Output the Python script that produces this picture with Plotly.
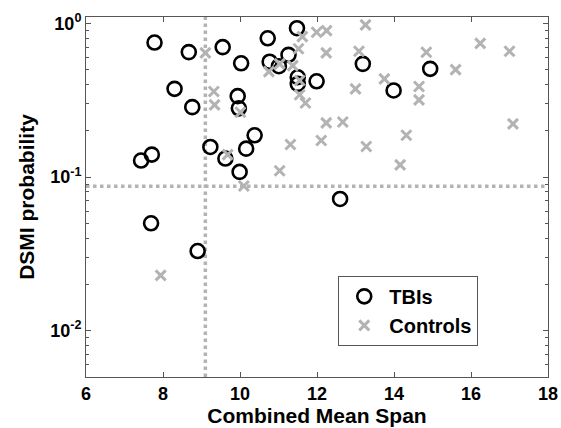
import plotly.graph_objects as go
import math

# TBIs (black open circles)
tbi_span = [7.78, 8.67, 8.30, 8.76, 7.43, 7.71, 7.69, 8.90, 9.55, 10.03, 9.94, 9.97,
            10.38, 9.23, 10.16, 9.62, 9.99, 11.48, 10.72, 10.77, 11.01, 11.26, 11.50,
            11.50, 11.99, 13.19, 13.99, 14.94, 12.60]
tbi_prob = [0.75, 0.65, 0.375, 0.285, 0.128, 0.140, 0.050, 0.033, 0.70, 0.55, 0.336, 0.280,
            0.187, 0.157, 0.153, 0.132, 0.108, 0.93, 0.80, 0.563, 0.526, 0.624, 0.446,
            0.404, 0.42, 0.545, 0.366, 0.506, 0.072]

# Controls (gray crosses)
ctl_span = [9.10, 9.32, 9.34, 10.01, 9.68, 10.10, 7.94, 11.03, 11.99, 12.25, 11.62, 13.26,
            11.52, 12.24, 13.09, 10.75, 11.03, 11.37, 11.55, 11.55, 11.70, 13.00, 13.75,
            14.65, 14.65, 14.84, 12.24, 12.67, 11.31, 12.11, 13.28, 14.32, 14.16, 15.60,
            16.24, 17.00, 17.09]
ctl_prob = [0.643, 0.36, 0.295, 0.264, 0.140, 0.0875, 0.0229, 0.110, 0.875, 0.897, 0.82, 0.977,
            0.683, 0.643, 0.658, 0.485, 0.545, 0.531, 0.425, 0.343, 0.303, 0.375, 0.435,
            0.388, 0.318, 0.649, 0.225, 0.228, 0.163, 0.173, 0.158, 0.187, 0.120, 0.50,
            0.741, 0.658, 0.222]

# thresholds
span_threshold = 9.1
prob_threshold = 0.087

x_range = [6, 18]
y_range = [0.005, 1.1]
x_ticks = [6, 8, 10, 12, 14, 16, 18]
y_ticks = [0.01, 0.1, 1]
y_ticktext = ["10<sup>-2</sup>", "10<sup>-1</sup>", "10<sup>0</sup>"]

GRAY = "#b3b3b3"
FAM = "Liberation Sans, Arial, sans-serif"
TICKFONT = dict(family=FAM, size=18, color="black", weight="bold")
TITLEFONT = dict(family=FAM, size=21, color="black", weight="bold")
LEGFONT = dict(family=FAM, size=20, color="black", weight="bold")

fig = go.Figure()

fig.add_trace(go.Scatter(x=x_range, y=[prob_threshold, prob_threshold], mode="lines",
                         line=dict(color=GRAY, width=3.5, dash="dot"),
                         showlegend=False, hoverinfo="skip"))
fig.add_trace(go.Scatter(x=[span_threshold, span_threshold], y=y_range, mode="lines",
                         line=dict(color=GRAY, width=3.5, dash="dot"),
                         showlegend=False, hoverinfo="skip"))

fig.add_trace(go.Scatter(x=tbi_span, y=tbi_prob, mode="markers", name="TBIs",
                         marker=dict(symbol="circle-open", size=14, color="black",
                                     line=dict(width=2.6, color="black"))))
fig.add_trace(go.Scatter(x=ctl_span, y=ctl_prob, mode="markers", name="Controls",
                         marker=dict(symbol="x-thin-open", size=10, color=GRAY,
                                     line=dict(width=3, color=GRAY))))

minor_y = [m * 10 ** e for e in (-3, -2, -1) for m in range(2, 10)]

axis_common = dict(showline=True, linecolor="#555555", linewidth=1, mirror="ticks",
                   ticks="inside", ticklen=5, tickcolor="#555555", tickwidth=1,
                   showgrid=False, zeroline=False, tickfont=TICKFONT)

fig.update_xaxes(range=x_range, tickvals=x_ticks,
                 title=dict(text="Combined Mean Span", font=TITLEFONT, standoff=3),
                 **axis_common)
fig.update_yaxes(type="log", range=[math.log10(y_range[0]), math.log10(y_range[1])],
                 tickvals=y_ticks, ticktext=y_ticktext,
                 minor=dict(ticks="inside", ticklen=3, tickcolor="#555555", tickvals=minor_y, showgrid=False),
                 title=dict(text="DSMI probability", font=TITLEFONT, standoff=9),
                 **axis_common)

fig.update_layout(
    width=561, height=428,
    margin=dict(l=86, r=13, t=17, b=51, autoexpand=False),
    plot_bgcolor="white", paper_bgcolor="white",
    legend=dict(x=0.546, y=0.281, xanchor="left", yanchor="top",
                bgcolor="white", bordercolor="#555555", borderwidth=1,
                font=LEGFONT, itemwidth=40),
)

fig.write_html("out.html", config={"displayModeBar": False},
               post_script="document.body.style.margin='0';document.body.style.overflow='hidden';")
